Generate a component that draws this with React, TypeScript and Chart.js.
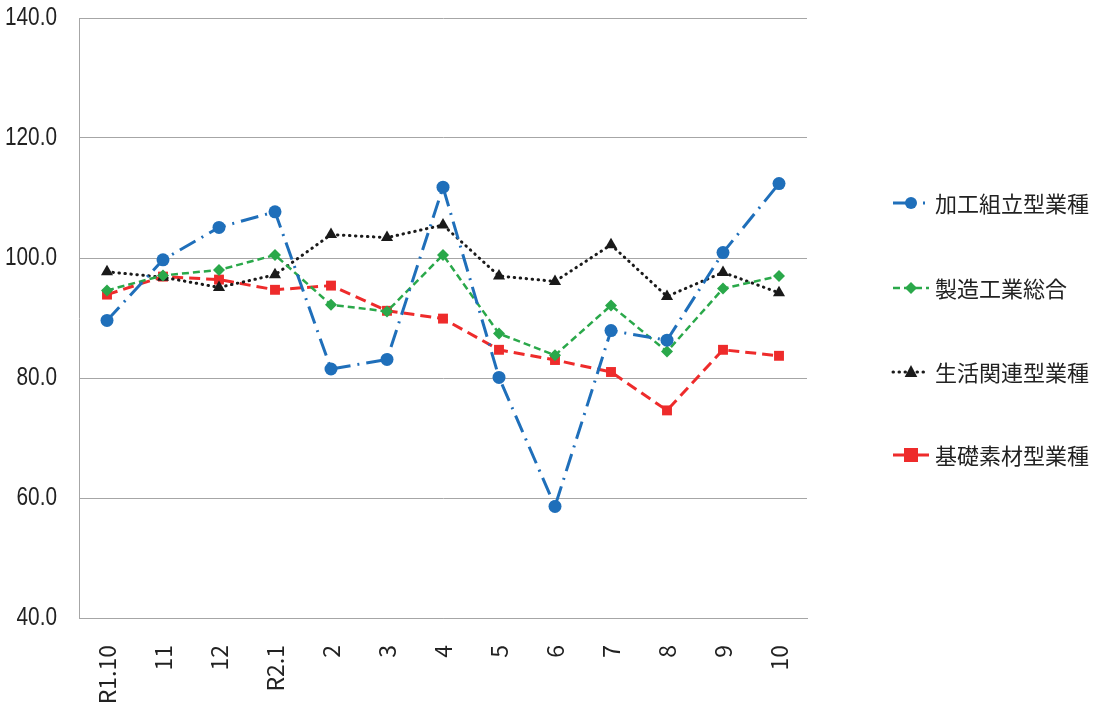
import React, { useEffect, useRef } from "react";
import { Chart, registerables } from "chart.js";

Chart.register(...registerables);

const categories = ["R1.10", "11", "12", "R2.1", "2", "3", "4", "5", "6", "7", "8", "9", "10"];
const kakouKumitate = [89.6, 99.7, 105.1, 107.7, 81.5, 83.1, 111.8, 80.1, 58.6, 87.9, 86.3, 100.9, 112.4];
const seizouSougou = [94.6, 97.1, 98.0, 100.5, 92.2, 91.1, 100.5, 87.4, 83.8, 92.1, 84.4, 94.9, 97.0];
const seikatsuKanren = [97.7, 96.8, 95.1, 97.2, 103.9, 103.4, 105.5, 97.0, 96.1, 102.2, 93.6, 97.6, 94.2];
const kisoSozai = [93.9, 96.9, 96.4, 94.7, 95.4, 91.2, 89.9, 84.7, 83.0, 81.0, 74.6, 84.7, 83.7];
const seriesNames = ["加工組立型業種", "製造工業総合", "生活関連型業種", "基礎素材型業種"];

const BLUE = "#1f6fba";
const GREEN = "#2aa84a";
const BLACK = "#1a1a1a";
const RED = "#ee2b2b";

function drawMarker(ctx: CanvasRenderingContext2D, style: string, x: number, y: number, r: number, color: string) {
  ctx.save();
  ctx.fillStyle = color;
  ctx.setLineDash([]);
  ctx.beginPath();
  if (style === "circle") {
    ctx.arc(x, y, r, 0, Math.PI * 2);
  } else if (style === "rectRot") {
    ctx.moveTo(x, y - r);
    ctx.lineTo(x + r, y);
    ctx.lineTo(x, y + r);
    ctx.lineTo(x - r, y);
    ctx.closePath();
  } else if (style === "triangle") {
    ctx.moveTo(x, y - r);
    ctx.lineTo(x + r * 0.9, y + r * 0.7);
    ctx.lineTo(x - r * 0.9, y + r * 0.7);
    ctx.closePath();
  } else {
    ctx.rect(x - r, y - r, r * 2, r * 2);
  }
  ctx.fill();
  ctx.restore();
}

const yLabelPlugin = {
  id: "yLabels",
  afterDraw(chart: any) {
    const ctx: CanvasRenderingContext2D = chart.ctx;
    const ys = chart.scales.y;
    ctx.save();
    ctx.fillStyle = "#222";
    ctx.font = "26px 'Liberation Sans'";
    ctx.textBaseline = "middle";
    ctx.textAlign = "right";
    ys.ticks.forEach((t: any) => {
      const py = ys.getPixelForValue(t.value);
      ctx.save();
      ctx.translate(57, py);
      ctx.scale(0.8, 1);
      ctx.fillText(Number(t.value).toFixed(1), 0, 0);
      ctx.restore();
    });
    ctx.restore();
  },
};

const legendPlugin = {
  id: "customLegend",
  afterDraw(chart: any) {
    const ctx: CanvasRenderingContext2D = chart.ctx;
    const rows = [203, 288, 372, 455];
    const legendDash = [[22, 8, 2, 6], [7, 4], [0.5, 5.5], []];
    const markerR = [6, 6, 7, 7];
    chart.data.datasets.forEach((ds: any, i: number) => {
      const y = rows[i];
      ctx.save();
      ctx.strokeStyle = ds.borderColor;
      ctx.lineWidth = ds.borderWidth;
      ctx.lineCap = i === 2 ? "round" : "butt";
      ctx.setLineDash(legendDash[i]);
      ctx.beginPath();
      ctx.moveTo(893, y);
      ctx.lineTo(929, y);
      ctx.stroke();
      ctx.restore();
      drawMarker(ctx, ds.pointStyle, 911, y, markerR[i], ds.borderColor);
      ctx.save();
      ctx.fillStyle = "#222";
      ctx.font = "22px 'Noto Sans CJK JP'";
      ctx.textBaseline = "middle";
      ctx.textAlign = "left";
      ctx.fillText(ds.label, 935, y + 1);
      ctx.restore();
    });
  },
};

export default function App() {
  const ref = useRef<HTMLCanvasElement | null>(null);
  useEffect(() => {
    if (!ref.current) return;
    const chart = new Chart(ref.current, {
      type: "line",
      data: {
        labels: categories,
        datasets: [
          {
            label: seriesNames[0],
            data: kakouKumitate,
            borderColor: BLUE,
            backgroundColor: BLUE,
            borderWidth: 3,
            borderDash: [18, 7, 2, 7],
            pointStyle: "circle",
            pointRadius: 6.5,
            pointBorderWidth: 0,
          },
          {
            label: seriesNames[1],
            data: seizouSougou,
            borderColor: GREEN,
            backgroundColor: GREEN,
            borderWidth: 2.5,
            borderDash: [7, 4],
            pointStyle: "rectRot",
            pointRadius: 6,
            pointBorderWidth: 0,
          },
          {
            label: seriesNames[2],
            data: seikatsuKanren,
            borderColor: BLACK,
            backgroundColor: BLACK,
            borderWidth: 3,
            borderDash: [0.5, 5.5],
            borderCapStyle: "round",
            pointStyle: "triangle",
            pointRadius: 7,
            pointBorderWidth: 0,
          },
          {
            label: seriesNames[3],
            data: kisoSozai,
            borderColor: RED,
            backgroundColor: RED,
            borderWidth: 3,
            borderDash: [11, 6],
            pointStyle: "rect",
            pointRadius: 7,
            pointBorderWidth: 0,
          },
        ] as any,
      },
      options: {
        animation: false,
        responsive: true,
        maintainAspectRatio: false,
        layout: { padding: { left: 5, right: 286, top: 18, bottom: 0 } },
        plugins: { legend: { display: false }, tooltip: { enabled: false } },
        elements: { line: { tension: 0 } },
        scales: {
          x: {
            offset: true,
            grid: { display: false },
            border: { display: true, color: "#a6a6a6", width: 1 },
            afterFit: (s: any) => {
              s.height = 86;
            },
            ticks: {
              minRotation: 90,
              maxRotation: 90,
              padding: 19,
              color: "#222",
              font: { family: "'Noto Sans CJK JP'", size: 23 },
            },
          },
          y: {
            min: 40,
            max: 140,
            grid: { color: "#a6a6a6", lineWidth: 1, drawTicks: false },
            border: { display: true, color: "#a6a6a6", width: 1 },
            afterFit: (s: any) => {
              s.width = 74;
            },
            ticks: {
              stepSize: 20,
              display: false,
            },
          },
        },
      },
      plugins: [yLabelPlugin, legendPlugin],
    });
    return () => chart.destroy();
  }, []);
  return (
    <div style={{ position: "absolute", left: 0, top: 0, width: 1093, height: 704, background: "#fff" }}>
      <canvas ref={ref} />
    </div>
  );
}
